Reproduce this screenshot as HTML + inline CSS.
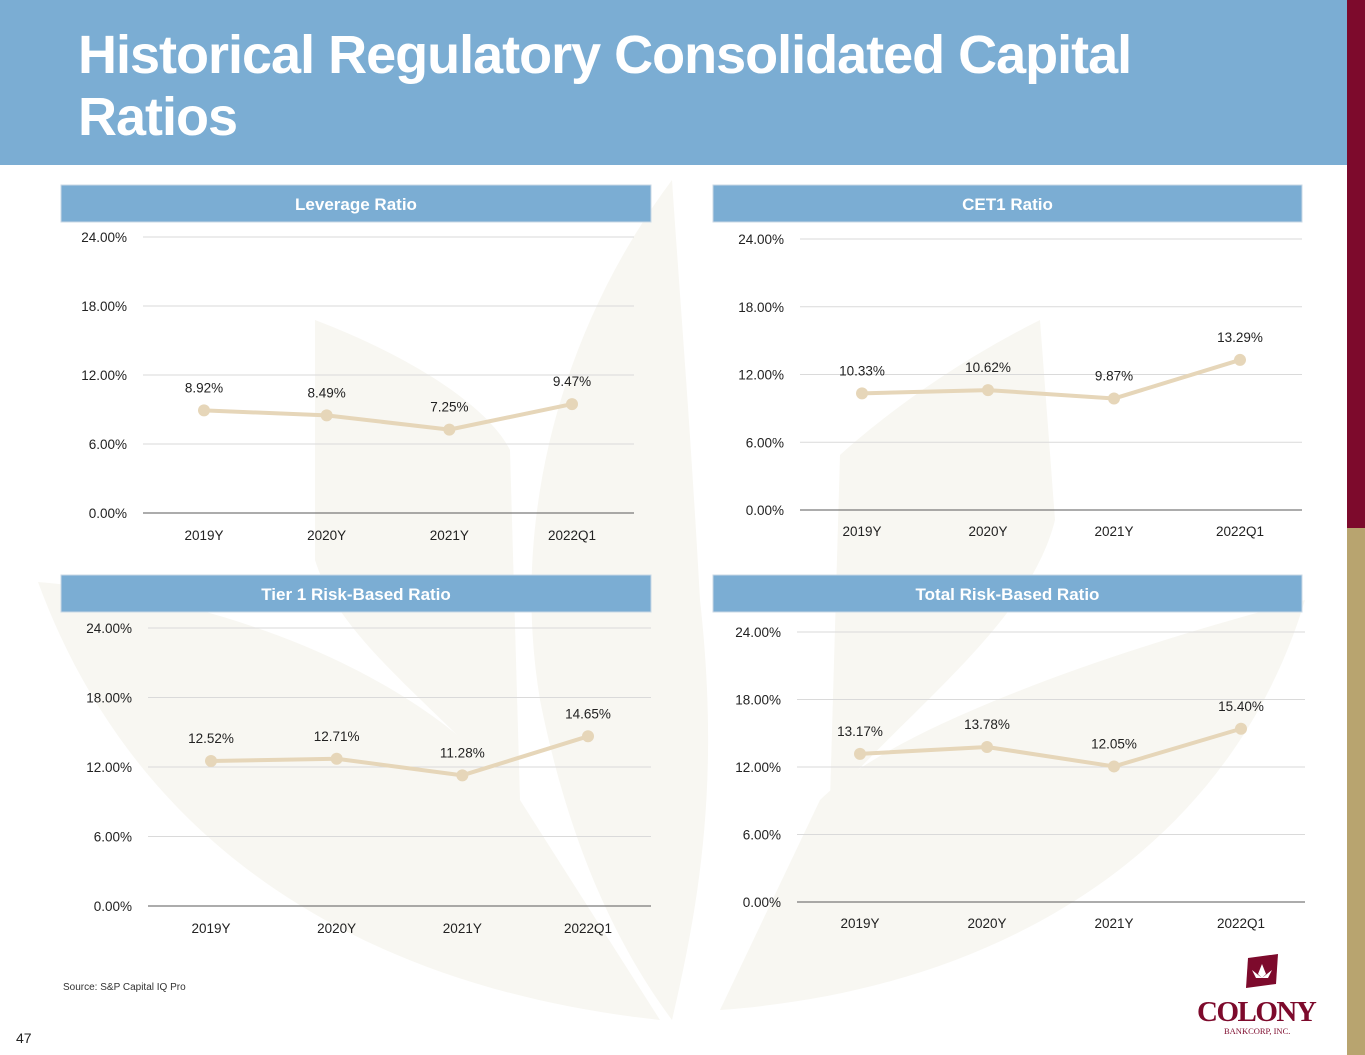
<!DOCTYPE html>
<html><head><meta charset="utf-8"><style>
body{margin:0;width:1365px;height:1055px;overflow:hidden;background:#fff;font-family:"Liberation Sans",sans-serif;position:relative}
#hdr{position:absolute;left:0;top:0;width:1347px;height:165px;background:#7badd3}
#hdr h1{position:absolute;left:78px;top:24px;margin:0;color:#fff;font-size:54px;line-height:62px;font-weight:bold;letter-spacing:-1px}
.bar1{position:absolute;left:1347px;top:0;width:18px;height:528px;background:#7d0a2c}
.bar2{position:absolute;left:1347px;top:528px;width:18px;height:527px;background:#b8a46f}
svg{position:absolute;left:0;top:0}
</style></head><body>
<div id="hdr"><h1>Historical Regulatory Consolidated Capital<br>Ratios</h1></div>
<div class="bar1"></div>
<div class="bar2"></div>
<svg id="s" width="1347" height="1055">
<g fill="#f8f7f2">
<path d="M38,582 C250,600 440,690 520,800 L660,1020 C380,990 140,860 38,582 Z"/>
<path d="M315,320 C420,360 490,410 510,450 L520,800 C430,700 340,640 315,560 Z"/>
<path d="M672,180 C560,330 510,520 540,700 C570,850 620,950 672,1020 C700,900 720,780 700,600 C690,420 680,300 672,180 Z"/>
<path d="M1040,320 C960,360 890,410 840,455 L830,800 C920,700 1030,620 1055,520 Z"/>
<path d="M1305,600 C1150,640 900,720 820,800 L720,1010 C1000,990 1230,850 1305,600 Z"/>
</g>
<text x="63" y="990" font-size="10" fill="#333">Source:      S&amp;P Capital IQ Pro</text>
<text x="16" y="1043" font-size="14" fill="#222">47</text>
<g>
<path d="M1248,958 L1278,954 L1276,984 L1246,988 Z" fill="#7d0a2c"/>
<path d="M1262,964 l-4,10 l4,4 l4,-4 Z M1252,970 l4,8 l6,0 Z M1272,970 l-4,8 l-6,0 Z" fill="#fff"/>
<text x="1197" y="1021" font-family="Liberation Serif,serif" font-size="29" fill="#7d0a2c" font-weight="bold" letter-spacing="-1.5">COLONY</text>
<text x="1224" y="1034" font-family="Liberation Serif,serif" font-size="8.5" fill="#7d0a2c">BANKCORP, INC.</text>
</g>
</svg>
<script>
const categories=["2019Y","2020Y","2021Y","2022Q1"];
const tickValues=[0,6,12,18,24];
const tickLabels=["0.00%","6.00%","12.00%","18.00%","24.00%"];
const leverageValues=[8.92,8.49,7.25,9.47];
const cet1Values=[10.33,10.62,9.87,13.29];
const tier1Values=[12.52,12.71,11.28,14.65];
const totalValues=[13.17,13.78,12.05,15.40];
const yMax=24;
const panels=[
 {name:"leverage",title:"Leverage Ratio",vals:leverageValues,hx:61,hy:185,hw:590,gx0:143,gx1:634,y24:237,y0:513,c0:204,c1:572,xl:540,yl:127},
 {name:"cet1",title:"CET1 Ratio",vals:cet1Values,hx:713,hy:185,hw:589,gx0:800,gx1:1302,y24:239,y0:510,c0:862,c1:1240,xl:536,yl:784},
 {name:"tier1",title:"Tier 1 Risk-Based Ratio",vals:tier1Values,hx:61,hy:575,hw:590,gx0:148,gx1:651,y24:628,y0:906,c0:211,c1:588,xl:933,yl:132},
 {name:"total",title:"Total Risk-Based Ratio",vals:totalValues,hx:713,hy:575,hw:589,gx0:797,gx1:1305,y24:632,y0:902,c0:860,c1:1241,xl:928,yl:781}
];
const NS="http://www.w3.org/2000/svg";
const svg=document.getElementById('s');
function mk(t,a,p){const e=document.createElementNS(NS,t);for(const k in a)e.setAttribute(k,a[k]);(p||svg).appendChild(e);return e;}
panels.forEach(p=>{
 const g=mk('g',{});
 
 
 const yS=v=>p.y0-(v/yMax)*(p.y0-p.y24);
 const xS=i=>p.c0+i*(p.c1-p.c0)/(categories.length-1);
 const h=mk('rect',{x:p.hx,y:p.hy,width:p.hw,height:37,fill:'#7badd3',stroke:'#c9d8e6','stroke-width':1},g);
 
 
 const ht=mk('text',{x:p.hx+p.hw/2,y:p.hy+25,'text-anchor':'middle',fill:'#fff','font-size':17,'font-weight':'bold'},g);
 ht.textContent=p.title;
 
 
 tickValues.forEach((v,i)=>{
  const y=yS(v);
  const l=mk('line',{x1:p.gx0,x2:p.gx1,y1:y,y2:y,stroke:v===0?'#7a7a7a':'#dadada','stroke-width':v===0?1.3:1},g);
  
  
  const t=mk('text',{x:p.yl,y:y+5,'text-anchor':'end','font-size':13.5,fill:'#222'},g);
  t.textContent=tickLabels[i];
  
  
 });
 categories.forEach((c,i)=>{
  const t=mk('text',{x:xS(i),y:p.xl,'text-anchor':'middle','font-size':13.5,fill:'#222'},g);
  t.textContent=c;
  
  
 });
 const pts=p.vals.map((v,i)=>xS(i)+','+yS(v)).join(' ');
 const pl=mk('polyline',{points:pts,fill:'none',stroke:'#e6d6b9','stroke-width':4,'stroke-linejoin':'round'},g);
 
 
 p.vals.forEach((v,i)=>{
  const c=mk('circle',{cx:xS(i),cy:yS(v),r:6,fill:'#e6d6b9'},g);
  
  
  const t=mk('text',{x:xS(i),y:yS(v)-18,'text-anchor':'middle','font-size':13.5,fill:'#222'},g);
  t.textContent=v.toFixed(2)+'%';
  
  
 });
});
</script>
</body></html>
